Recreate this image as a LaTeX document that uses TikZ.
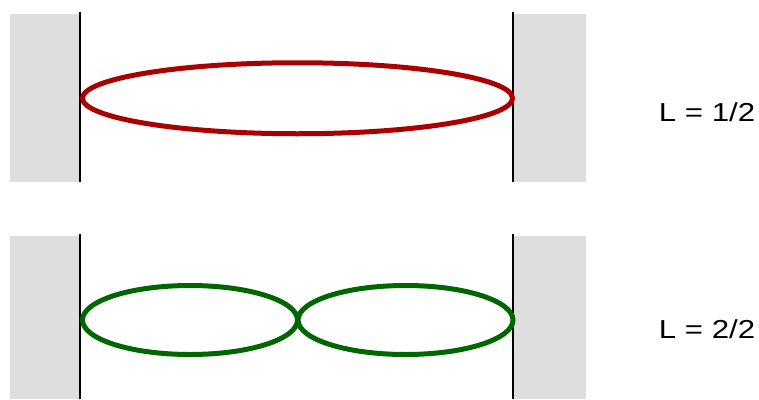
\documentclass[tikz,border=0pt]{standalone}
\usepackage{fontspec}
\setmainfont{Liberation Sans}
\begin{document}
\begin{tikzpicture}[x=1pt,y=-1pt,
  wallbox/.style={fill=black!13,draw=none},
  wallline/.style={draw=black,line width=2pt},
  loopred/.style={draw=red!67!black,line width=5pt},
  loopgreen/.style={draw=green!40!black,line width=5pt},
  lbl/.style={font=\fontsize{26}{30}\selectfont,inner sep=0pt,xscale=1.2,transform shape}]
\useasboundingbox (0,0) rectangle (759,399);
% top
\fill[wallbox] (10,14) rectangle (80,182);
\fill[wallbox] (513,14) rectangle (586,182);
\coordinate (tl1) at (80,12); \coordinate (tl2) at (80,182);
\coordinate (tr1) at (513,12); \coordinate (tr2) at (513,182);
\draw[wallline] (tl1) -- (tl2);
\draw[wallline] (tr1) -- (tr2);
\draw[loopred] (297.5,98.25) ellipse [x radius=215, y radius=35.5];
\node[lbl] (l1) at (707,112) {L = 1/2};
% bottom
\fill[wallbox] (10,236) rectangle (80,399);
\fill[wallbox] (513,236) rectangle (586,399);
\coordinate (bl1) at (80,234); \coordinate (bl2) at (80,399);
\coordinate (br1) at (513,234); \coordinate (br2) at (513,399);
\draw[wallline] (bl1) -- (bl2);
\draw[wallline] (br1) -- (br2);
\draw[loopgreen] (190,320) ellipse [x radius=107.5, y radius=34.5];
\draw[loopgreen] (405.5,320) ellipse [x radius=107.5, y radius=34.5];
\node[lbl] (l2) at (707,329) {L = 2/2};
\end{tikzpicture}
\end{document}
